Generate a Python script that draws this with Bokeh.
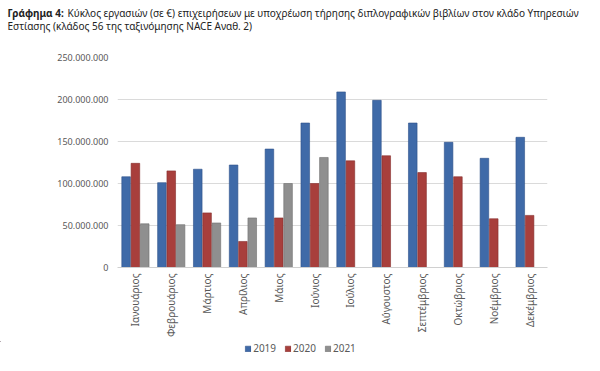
from bokeh.plotting import figure
from bokeh.models import FactorRange, Range1d, FixedTicker, Legend, LegendItem, ColumnDataSource
from bokeh.core.properties import value
from bokeh.transform import dodge
from bokeh.embed import file_html
from bokeh.resources import INLINE

months = ["Ιανουάριος", "Φεβρουάριος", "Μάρτιος", "Απρίλιος", "Μάιος", "Ιούνιος",
          "Ιούλιος", "Αύγουστος", "Σεπτέμβριος", "Οκτώβριος", "Νοέμβριος", "Δεκέμβριος"]
months_2021 = months[:6]
sales_2019 = [108e6, 101e6, 117e6, 122e6, 141e6, 172e6, 209e6, 199e6, 172e6, 149e6, 130e6, 155e6]
sales_2020 = [124e6, 115e6, 65e6, 31e6, 59e6, 100e6, 127e6, 133e6, 113e6, 108e6, 58e6, 62e6]
sales_2021 = [52e6, 51e6, 53e6, 59e6, 100e6, 131e6]
y_ticks = [0, 50e6, 100e6, 150e6, 200e6, 250e6]
y_tick_labels = ["0", "50.000.000", "100.000.000", "150.000.000", "200.000.000", "250.000.000"]
series_names = ["2019", "2020", "2021"]
title_bold = "Γράφημα 4:"
title_line1 = "Κύκλος εργασιών (σε €) επιχειρήσεων με υποχρέωση τήρησης διπλογραφικών βιβλίων στον κλάδο Υπηρεσιών"
title_line2 = "Εστίασης (κλάδος 56 της ταξινόμησης NACE Αναθ. 2)"

FONT = "Noto Sans"
colors = ["#3F6AA8", "#A83F3C", "#8F8F8F"]
edges = ["#2E5189", "#852E2C", "#6E6E6E"]
W = 600
TH = 50   # title strip height
LH = 30   # legend strip height
MH = 371 - TH - LH


def blank_strip(h):
    f = figure(width=W, height=h, output_backend="svg", toolbar_location=None,
               x_axis_type=None, y_axis_type=None,
               x_range=Range1d(0, W), y_range=Range1d(h, 0),
               min_border=0, min_border_left=0, min_border_right=0,
               min_border_top=0, min_border_bottom=0)
    f.grid.visible = False
    f.outline_line_color = None
    return f


# ---- title strip ----
t = blank_strip(TH)
t.text(x=[7], y=[12.5], text=[title_bold], text_font=value(FONT), text_font_size="10px",
       text_font_style="bold", text_color="#222222", text_baseline="middle")
t.text(x=[67], y=[12.5], text=[title_line1], text_font=value(FONT), text_font_size="10px",
       text_color="#222222", text_baseline="middle")
t.text(x=[7], y=[25.5], text=[title_line2], text_font=value(FONT), text_font_size="10px",
       text_color="#222222", text_baseline="middle")

# ---- chart ----
src_a = ColumnDataSource(dict(m=months, v19=sales_2019, v20=sales_2020))
src_b = ColumnDataSource(dict(m=months_2021, v21=sales_2021))

p = figure(width=W, height=MH, output_backend="svg", toolbar_location=None,
           x_range=FactorRange(*months, range_padding=0), y_range=Range1d(0, 250e6),
           min_border_left=117, min_border_right=53, min_border_top=7,
           min_border_bottom=MH - (267 - TH))
p.outline_line_color = None

p.vbar(x=dodge("m", -0.26, range=p.x_range), top="v19", width=0.24, source=src_a,
       fill_color=colors[0], line_color=edges[0], line_width=0.6)
p.vbar(x=dodge("m", 0.0, range=p.x_range), top="v20", width=0.24, source=src_a,
       fill_color=colors[1], line_color=edges[1], line_width=0.6)
p.vbar(x=dodge("m", 0.26, range=p.x_range), top="v21", width=0.24, source=src_b,
       fill_color=colors[2], line_color=edges[2], line_width=0.6)

p.yaxis.ticker = FixedTicker(ticks=y_ticks)
p.yaxis.major_label_overrides = {t_: l for t_, l in zip(y_ticks, y_tick_labels)}
p.yaxis.axis_line_color = None
p.yaxis.major_tick_line_color = None
p.yaxis.minor_tick_line_color = None
p.yaxis.major_tick_out = 0
p.yaxis.major_tick_in = 0
p.yaxis.major_label_text_font = FONT
p.yaxis.major_label_text_font_size = "9px"
p.yaxis.major_label_text_color = "#595959"
p.yaxis.major_label_standoff = 9

p.xaxis.axis_line_color = "#D0D0D0"
p.xaxis.major_tick_line_color = None
p.xaxis.minor_tick_line_color = None
p.xaxis.major_tick_out = 0
p.xaxis.major_tick_in = 0
p.xaxis.major_label_orientation = 1.5708
p.xaxis.major_label_text_font = FONT
p.xaxis.major_label_text_font_size = "10px"
p.xaxis.major_label_text_color = "#595959"
p.xaxis.major_label_standoff = 6

p.xgrid.grid_line_color = None
p.ygrid.grid_line_color = "#DADADA"
p.ygrid.grid_line_width = 1

# ---- legend strip (swatches only; the dummy bars sit far outside the visible range) ----
lg = blank_strip(LH)
lr = [lg.vbar(x=[-5000], top=[-5000], bottom=[-5001], width=1, fill_color=c, line_color=e,
              line_width=0.6)
      for c, e in zip(colors, edges)]
legend = Legend(items=[LegendItem(label=n, renderers=[r]) for n, r in zip(series_names, lr)],
                orientation="horizontal", location="top_center",
                glyph_width=7, glyph_height=7, label_text_font=FONT, label_text_font_size="10px",
                label_text_color="#595959", label_standoff=2, spacing=8, padding=2,
                border_line_color=None, background_fill_alpha=0, label_height=10, margin=0)
lg.add_layout(legend, "center")

open("out.html", "w").write(file_html([t, p, lg], INLINE))
